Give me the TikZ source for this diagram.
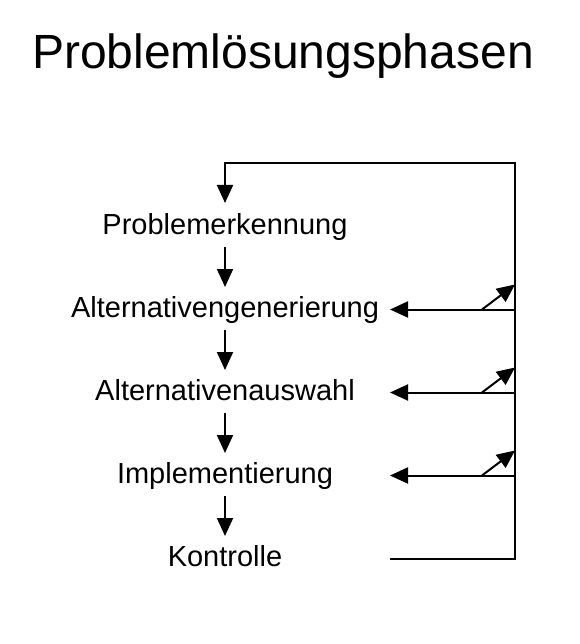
\documentclass[tikz,border=0pt]{standalone}
\usepackage{fontspec}
\setmainfont{Liberation Sans}
\usepackage{tikz}
\usetikzlibrary{positioning}
\usetikzlibrary{calc}
\usetikzlibrary{arrows.meta}
\newcommand\phasefont{\fontsize{29}{34}\selectfont}
\newcommand\titlefont{\fontsize{48}{56}\selectfont}
\tikzset{
  phasebox/.style={font=\phasefont,text height=21pt,text depth=6pt,inner sep=0pt,outer sep=0pt},
  flowarrow/.style={line width=2pt,-{Triangle[length=18pt,width=16pt]}}
}

\begin{document}
\begin{tikzpicture}[x=1pt, y=-1pt, node distance=56pt]
\useasboundingbox (0,0) rectangle (579,644);
\node[anchor=base, font=\titlefont] (title) at (283,69) {Problemlösungsphasen};
\node[phasebox] (prob) at (225,226.5) {Problemerkennung};
\node[phasebox, below=of prob] (gen) {Alternativengenerierung};
\node[phasebox, below=of gen] (ausw) {Alternativenauswahl};
\node[phasebox, below=of ausw] (impl) {Implementierung};
\node[phasebox, below=of impl] (kon) {Kontrolle};
\coordinate (loop) at (515,163);
\coordinate (tip) at (390,163);
\foreach \a/\b in {prob/gen,gen/ausw,ausw/impl,impl/kon}
  \draw[flowarrow, shorten <=7pt, shorten >=9pt] (\a) -- (\b);
\foreach \n in {gen,ausw,impl} {
  \draw[flowarrow] (\n -| loop) -- (\n -| tip);
  \draw[flowarrow] ($(\n -| loop)+(-33,0)$) -- ($(\n -| loop)+(0,-25)$);
}
\draw[flowarrow, shorten >=10pt] (kon -| tip) -- (kon -| loop) -- (loop) -| (prob.north);
\end{tikzpicture}
\end{document}
